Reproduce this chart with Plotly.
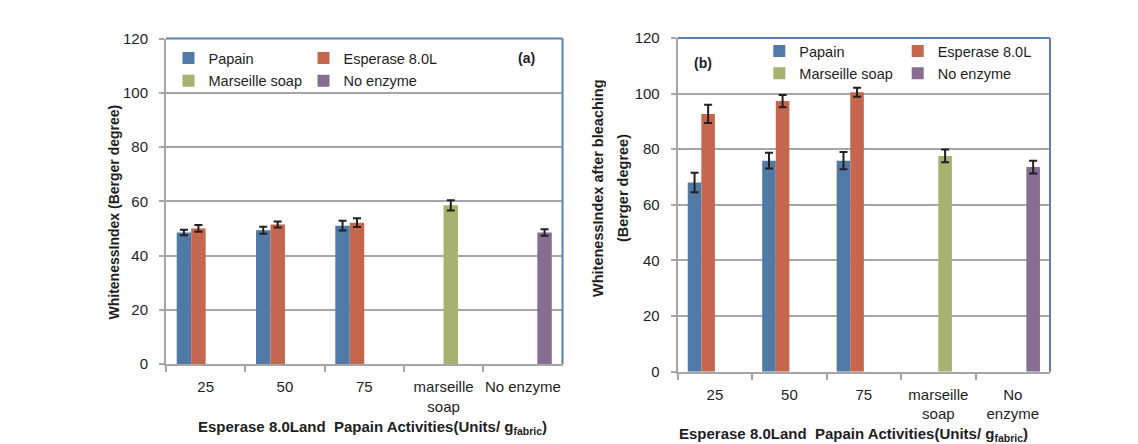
import plotly.graph_objects as go

# The page body has an 8px margin, so the figure is sized to fit the window
OFF = 8
W, H = 1138 - OFF, 444 - OFF

# ---------------- data ----------------
categories_a = ["25", "50", "75", "marseille<br>soap", "No enzyme"]
categories_b = ["25", "50", "75", "marseille<br>soap", "No<br>enzyme"]
series_names = ["Papain", "Esperase 8.0L", "Marseille soap", "No enzyme"]

papain_a = [48.5, 49.3, 51.0, None, None]
papain_a_err = [1.0, 1.3, 1.8, 0, 0]
esperase_a = [50.0, 51.4, 52.1, None, None]
esperase_a_err = [1.2, 1.1, 1.6, 0, 0]
marseille_a = [None, None, None, 58.5, None]
marseille_a_err = [0, 0, 0, 1.9, 0]
noenzyme_a = [None, None, None, None, 48.5]
noenzyme_a_err = [0, 0, 0, 0, 1.2]

papain_b = [68.0, 75.9, 75.9, None, None]
papain_b_err = [3.5, 2.8, 3.1, 0, 0]
esperase_b = [92.7, 97.3, 100.5, None, None]
esperase_b_err = [3.3, 2.2, 1.6, 0, 0]
marseille_b = [None, None, None, 77.6, None]
marseille_b_err = [0, 0, 0, 2.3, 0]
noenzyme_b = [None, None, None, None, 73.6]
noenzyme_b_err = [0, 0, 0, 0, 2.3]

y_ticks = [0, 20, 40, 60, 80, 100, 120]

colors = ["#5079a6", "#c5674e", "#a6b26f", "#876d92"]
FONT = "Liberation Sans, Arial, sans-serif"
TXT = "#1e1e1e"
GRID = "#a6a6a6"
BORDER = "#5a80b4"
ERR = "#231f20"


def px(x):
    return (x - OFF) / W


def py(y):
    return 1 - (y - OFF) / H


fig = go.Figure()

set_a = [(papain_a, papain_a_err), (esperase_a, esperase_a_err),
         (marseille_a, marseille_a_err), (noenzyme_a, noenzyme_a_err)]
set_b = [(papain_b, papain_b_err), (esperase_b, esperase_b_err),
         (marseille_b, marseille_b_err), (noenzyme_b, noenzyme_b_err)]

for i, (vals, errs) in enumerate(set_a):
    fig.add_trace(go.Bar(
        x=categories_a, y=vals, name=series_names[i], xaxis="x", yaxis="y",
        marker=dict(color=colors[i], line=dict(width=0)),
        error_y=dict(type="data", array=errs, color=ERR, thickness=2, width=4),
        legend="legend" if i == 0 else f"legend{i + 1}", showlegend=True,
    ))

for i, (vals, errs) in enumerate(set_b):
    fig.add_trace(go.Bar(
        x=categories_b, y=vals, name=series_names[i], xaxis="x2", yaxis="y2",
        marker=dict(color=colors[i], line=dict(width=0)),
        error_y=dict(type="data", array=errs, color=ERR, thickness=2, width=4),
        legend=f"legend{i + 5}", showlegend=True,
    ))

axis_common = dict(
    showline=True, linecolor=GRID, linewidth=2,
    ticks="outside", tickcolor=GRID, tickwidth=2,
    tickfont=dict(family=FONT, size=15, color=TXT),
    automargin=False,
)
xcommon = dict(type="category", categoryorder="array", tickson="boundaries",
               ticklen=6, showgrid=False, tickangle=0, ticklabelstandoff=8,
               **axis_common)
ycommon = dict(range=[0, 120], tickvals=y_ticks, ticklen=5, showgrid=True,
               gridcolor=GRID, gridwidth=2, zeroline=False,
               ticklabelstandoff=8, **axis_common)

fig.update_layout(
    width=W, height=H,
    margin=dict(l=0, r=0, t=0, b=0),
    paper_bgcolor="white", plot_bgcolor="white",
    font=dict(family=FONT, size=14, color=TXT),
    showlegend=True,
    barmode="group", bargap=0.27, bargroupgap=0,
    xaxis=dict(domain=[px(166), px(562.5)], anchor="y",
               categoryarray=categories_a, **xcommon),
    yaxis=dict(domain=[py(364), py(38.5)], anchor="x", **ycommon),
    xaxis2=dict(domain=[px(677.7), px(1050)], anchor="y2",
                categoryarray=categories_b, **xcommon),
    yaxis2=dict(domain=[py(371.7), py(38)], anchor="x2", **ycommon),
)

# legends: one entry each, placed in a 2x2 grid inside each panel
# (values = centre of the reference colour square, row centre)
leg_pos = {
    "legend": (194.5, 58),
    "legend2": (329.5, 58),
    "legend3": (194.5, 80.7),
    "legend4": (329.5, 80.7),
    "legend5": (785.3, 51),
    "legend6": (923.7, 51),
    "legend7": (785.3, 73.3),
    "legend8": (923.7, 73.3),
}
for key, (lx, ly) in leg_pos.items():
    fig.update_layout({key: dict(
        x=px(lx - 26), y=py(ly), xanchor="left", yanchor="middle",
        bgcolor="rgba(0,0,0,0)", borderwidth=0, itemwidth=30,
        font=dict(family=FONT, size=14.5, color=TXT),
        orientation="v", tracegroupgap=0,
    )})

# blue top / right plot-area borders
for xr, yr in (("x domain", "y domain"), ("x2 domain", "y2 domain")):
    fig.add_shape(type="line", xref=xr, yref=yr, x0=0, x1=1, y0=1, y1=1,
                  line=dict(color=BORDER, width=2))
    fig.add_shape(type="line", xref=xr, yref=yr, x0=1, x1=1, y0=0, y1=1,
                  line=dict(color=BORDER, width=2))

bold = dict(family=FONT, size=14, color=TXT)
bold_x = dict(family=FONT, size=15, color=TXT)
annots = [
    dict(text="<b>(a)</b>", x=px(526), y=py(58), font=bold),
    dict(text="<b>(b)</b>", x=px(703), y=py(63), font=bold),
    dict(text="<b>WhitenessIndex (Berger degree)</b>", x=px(113.5), y=py(212),
         textangle=-90, font=bold),
    dict(text="<b>WhitenessIndex after bleaching</b>",
         x=px(598), y=py(188), textangle=-90,
         font=dict(family=FONT, size=14.5, color=TXT)),
    dict(text="<b>(Berger degree)</b>",
         x=px(623), y=py(188), textangle=-90,
         font=dict(family=FONT, size=14.5, color=TXT)),
    dict(text="<b>Esperase 8.0Land  Papain Activities(Units/ g<sub>fabric</sub>)</b>",
         x=px(372), y=py(427), font=bold_x),
    dict(text="<b>Esperase 8.0Land  Papain Activities(Units/ g<sub>fabric</sub>)</b>",
         x=px(853), y=py(434), font=bold_x),
]
for a in annots:
    fig.add_annotation(xref="paper", yref="paper", showarrow=False,
                       xanchor="center", yanchor="middle", **a)

fig.write_html("out.html")
